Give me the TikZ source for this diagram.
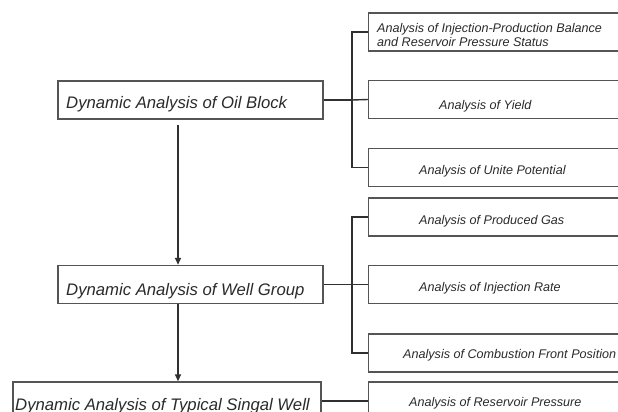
\documentclass[tikz,border=0pt]{standalone}
\usepackage{fontspec}
\setmainfont{Liberation Sans}
\usetikzlibrary{arrows.meta}
\definecolor{boxline}{HTML}{555555}
\definecolor{conline}{HTML}{303030}
\definecolor{txt}{HTML}{2A2A2A}
\tikzset{
  bigbox/.style={draw=boxline, line width=1.4pt, rectangle, inner sep=0pt, minimum width=265pt, minimum height=38pt},
  smallbox/.style={draw=boxline, line width=1.4pt, rectangle, inner sep=0pt, minimum width=280pt, minimum height=38pt, anchor=west},
  bigtxt/.style={anchor=base west, inner sep=0pt, text=txt, font=\fontsize{16.7}{20}\selectfont\itshape},
  smalltxt/.style={anchor=base west, inner sep=0pt, text=txt, font=\fontsize{12.6}{14}\selectfont\itshape},
  conn/.style={draw=conline, line width=1.4pt},
  arr/.style={conn, -{Triangle[length=7pt,width=6pt]}}
}
\begin{document}
\begin{tikzpicture}[x=1pt,y=-1pt]
\useasboundingbox (0,0) rectangle (618,412);
\clip (0,0) rectangle (618,412);
% left boxes
\node[bigbox] (L1) at (190.5,100) {};
\node[bigbox] (L2) at (190.5,284.5) {};
\node[bigbox, minimum width=308pt] (L3) at (167,401) {};
% right boxes
\node[smallbox] (A) at (368,32) {};
\node[smallbox] (B) at (368,99.5) {};
\node[smallbox] (C) at (368,167.5) {};
\node[smallbox] (D) at (368,217) {};
\node[smallbox] (E) at (368,284.5) {};
\node[smallbox] (F) at (368,353) {};
\node[smallbox] (G) at (368,401) {};
% texts
\node[bigtxt] (tL1) at (66,108) {Dynamic Analysis of Oil Block};
\node[bigtxt] (tL2) at (66,295) {Dynamic Analysis of Well Group};
\node[bigtxt] (tL3) at (15,410) {Dynamic Analysis of Typical Singal Well};
\node[smalltxt, align=left] (tA) at (377,47) {Analysis of Injection-Production Balance\\and Reservoir Pressure Status};
\node[smalltxt] (tB) at (439,109) {Analysis of Yield};
\node[smalltxt] (tC) at (419,174) {Analysis of Unite Potential};
\node[smalltxt] (tD) at (419,224) {Analysis of Produced Gas};
\node[smalltxt] (tE) at (419,291) {Analysis of Injection Rate};
\node[smalltxt] (tF) at (403,358.5) {Analysis of Combustion Front Position};
\node[smalltxt] (tG) at (409,406) {Analysis of Reservoir Pressure};
% bracket points
\coordinate (b1) at (352,100);
\coordinate (b2) at (352,284.5);
% connectors
\draw[conn] (L1.east) -- (b1);
\draw[conn] (A.west) -| (b1) |- (C.west);
\draw[conn] (B.west) -- (b1);
\draw[conn] (L2.east) -- (b2);
\draw[conn] (D.west) -| (b2) |- (F.west);
\draw[conn] (E.west) -- (b2);
\draw[conn] (L3.east) -- (G.west);
% arrows
\draw[arr, shorten <=5pt] ([xshift=-12.5pt]L1.south) -- ([xshift=-12.5pt]L2.north);
\draw[arr] ([xshift=-12.5pt]L2.south) -- ([xshift=-12.5pt]L2.south |- L3.north);
\end{tikzpicture}
\end{document}
